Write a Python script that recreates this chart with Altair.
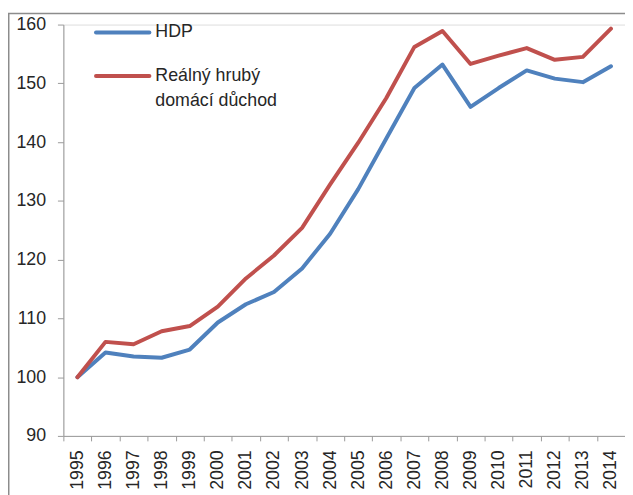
import altair as alt
import pandas as pd

# ---- data ----
years = ["1995", "1996", "1997", "1998", "1999", "2000", "2001", "2002", "2003", "2004",
         "2005", "2006", "2007", "2008", "2009", "2010", "2011", "2012", "2013", "2014"]
hdp = [100.0, 104.2, 103.5, 103.3, 104.7, 109.3, 112.4, 114.5, 118.5, 124.4,
       132.0, 140.6, 149.2, 153.2, 146.0, 149.2, 152.2, 150.8, 150.2, 152.9]
rhdd = [100.0, 106.0, 105.6, 107.8, 108.7, 112.0, 116.8, 120.7, 125.4, 132.8,
        139.9, 147.5, 156.2, 158.9, 153.3, 154.7, 156.0, 154.0, 154.5, 159.3]
series = ["HDP", "Reálný hrubý domácí důchod"]
legend_labels = ["HDP", "Reálný hrubý\ndomácí důchod"]
colors = ["#4F81BD", "#C0504D"]
y_ticks = [90, 100, 110, 120, 130, 140, 150, 160]

rows = []
for name, vals in zip(series, [hdp, rhdd]):
    for yr, v in zip(years, vals):
        rows.append({"year": yr, "value": v, "series": name})
df = pd.DataFrame(rows)

W, H = 568, 416
FONT = "Liberation Sans"
AX = "#9a9a9a"
TXT = "#262626"

x_enc = alt.X(
    "year:O", sort=years,
    scale=alt.Scale(type="band", paddingInner=0, paddingOuter=0),
    axis=alt.Axis(title=None, labelAngle=-90, tickBand="extent", tickSize=5,
                  labelPadding=9, labelFontSize=18, labelColor=TXT, labelFont=FONT,
                  domainColor=AX, tickColor=AX, grid=False, labelOverlap=False),
)
y_enc = alt.Y(
    "value:Q",
    scale=alt.Scale(domain=[90, 160], nice=False, zero=False),
    axis=alt.Axis(title=None, values=y_ticks, tickSize=6, labelPadding=12,
                  labelFontSize=18, labelColor=TXT, labelFont=FONT,
                  domainColor=AX, tickColor=AX, grid=False),
)

lines = alt.Chart(df).mark_line(strokeWidth=4, strokeCap="round", strokeJoin="round").encode(
    x=x_enc, y=y_enc,
    color=alt.Color("series:N", scale=alt.Scale(domain=series, range=colors), legend=None),
)

# outer chart frame
frame = alt.Chart(pd.DataFrame({"a": [0]})).mark_rect(
    fillOpacity=0, stroke="#8c8c8c", strokeWidth=1.5
).encode(x=alt.value(-55.25), x2=alt.value(W + 40), y=alt.value(-11.25), y2=alt.value(H + 120))

# manual legend (top-left inside the plot)
leg_df = pd.DataFrame({"series": series, "label": legend_labels})
leg_y = [8, 52]
leg_layers = []
for i in range(2):
    d = leg_df.iloc[[i]]
    leg_layers.append(
        alt.Chart(d).mark_rule(strokeWidth=4, strokeCap="round", color=colors[i]).encode(
            x=alt.value(33), x2=alt.value(87), y=alt.value(leg_y[i]))
    )
    leg_layers.append(
        alt.Chart(d).mark_text(align="left", baseline="top", fontSize=18, font=FONT,
                               color=TXT, lineBreak="\n", lineHeight=25).encode(
            x=alt.value(93), y=alt.value(leg_y[i] - 9), text="label:N")
    )

chart = alt.layer(frame, lines, *leg_layers).properties(
    width=W, height=H,
    autosize=alt.AutoSizeParams(type="none"),
    padding={"left": 56, "top": 14, "right": 0, "bottom": 57},
).configure_view(stroke=None).configure(background="white")

chart.save("out.html", embed_options={"renderer": "svg", "actions": False})
